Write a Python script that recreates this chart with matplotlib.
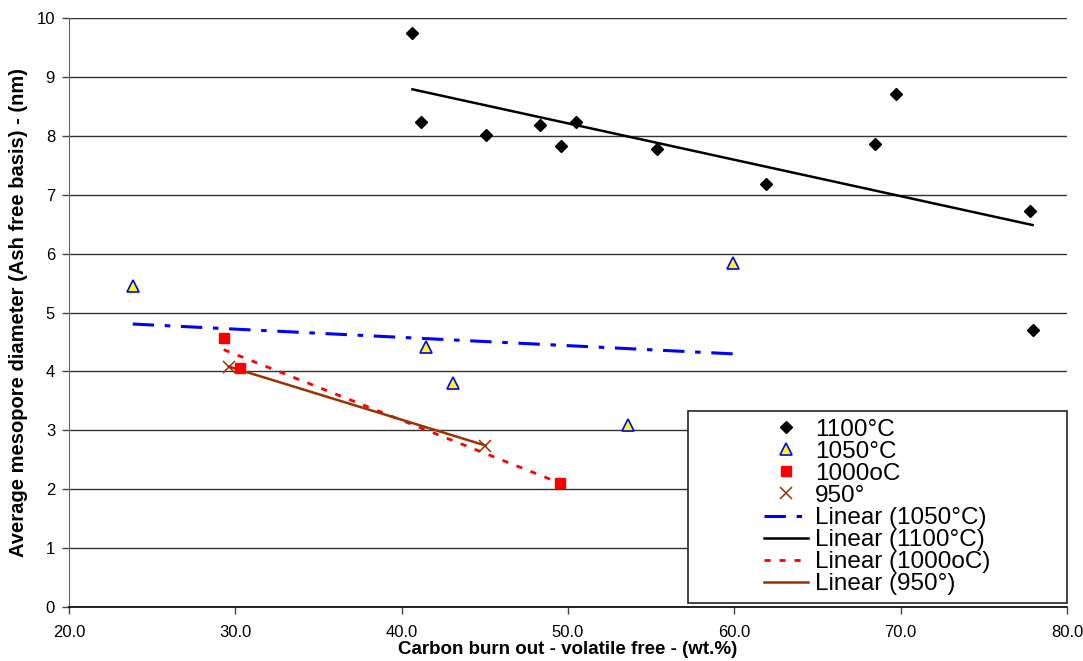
"""Mesopore diameter vs carbon burn-out, with linear trendlines per temperature."""

import numpy as np
import matplotlib

matplotlib.use("Agg")
import matplotlib.pyplot as plt
from matplotlib.patches import Rectangle

plt.rcParams["font.family"] = ["Liberation Sans", "DejaVu Sans"]

# 1100°C
x_1100 = [40.65, 41.15, 45.10, 48.31, 49.61, 50.47, 55.38, 61.91, 68.46, 69.70, 77.77, 77.93]
y_1100 = [9.75, 8.23, 8.01, 8.19, 7.83, 8.23, 7.78, 7.19, 7.87, 8.71, 6.73, 4.71]
# 1050°C
x_1050 = [23.83, 41.45, 43.08, 53.61, 59.90]
y_1050 = [5.45, 4.41, 3.80, 3.08, 5.84]
# 1000oC
x_1000 = [29.30, 30.26, 49.53]
y_1000 = [4.57, 4.05, 2.11]
# 950°
x_950 = [29.62, 45.04]
y_950 = [4.08, 2.74]

X_TICKS = [20.0, 30.0, 40.0, 50.0, 60.0, 70.0, 80.0]
Y_TICKS = list(range(0, 11))

BROWN = "#993300"


def trend(xs, ys):
    slope, icpt = np.polyfit(xs, ys, 1)
    xx = np.array([min(xs), max(xs)])
    return xx, slope * xx + icpt


fig = plt.figure(figsize=(10.83, 6.61), dpi=100)
ax = fig.add_axes([0.0637, 0.0821, 0.9215, 0.8902])

h1100, = ax.plot(x_1100, y_1100, linestyle="none", marker="D", ms=6.5, color="black", label="1100°C", zorder=4)
h1050, = ax.plot(x_1050, y_1050, linestyle="none", marker="^", ms=8, mfc="#ffff00", mec="#0000ff", mew=1.2,
                 label="1050°C", zorder=4)
h1000, = ax.plot(x_1000, y_1000, linestyle="none", marker="s", ms=7, color="#ff0000", label="1000oC", zorder=4)
h950, = ax.plot(x_950, y_950, linestyle="none", marker="x", ms=9, mew=1.1, color=BROWN, label="950°", zorder=4)

tx, ty = trend(x_1050, y_1050)
t1050, = ax.plot(tx, ty, color="#0000ff", lw=2.2, dashes=(7, 3.5, 1.8, 3.5), label="Linear (1050°C)", zorder=3)
tx, ty = trend(x_1100, y_1100)
t1100, = ax.plot(tx, ty, color="black", lw=1.8, label="Linear (1100°C)", zorder=3)
tx, ty = trend(x_1000, y_1000)
t1000, = ax.plot(tx, ty, color="#ff0000", lw=2.0, dashes=(2.2, 3.2), label="Linear (1000oC)", zorder=3)
tx, ty = trend(x_950, y_950)
t950, = ax.plot(tx, ty, color=BROWN, lw=1.8, label="Linear (950°)", zorder=3)

ax.set_xlim(20, 80)
ax.set_ylim(0, 10)
ax.set_xticks(X_TICKS)
ax.set_xticklabels([f"{v:.1f}" for v in X_TICKS])
ax.set_yticks(Y_TICKS)
ax.tick_params(axis="both", labelsize=12, length=5, width=1, direction="out", color="#444444")
ax.tick_params(axis="x", pad=8)
ax.tick_params(axis="y", pad=5)
ax.grid(axis="y", color="#333333", lw=1.0)
ax.set_axisbelow(True)
for side in ("top", "right"):
    ax.spines[side].set_visible(False)
ax.spines["left"].set_color("#666666")
ax.spines["bottom"].set_color("black")
ax.spines["bottom"].set_linewidth(1.2)

ax.set_xlabel("Carbon burn out - volatile free - (wt.%)", fontsize=13.5, fontweight="bold", labelpad=1)
ax.set_ylabel("Average mesopore diameter (Ash free basis) - (nm)", fontsize=14.5, fontweight="bold", labelpad=6)

box = (0.620, 0.006, 0.380, 0.327)
ax.add_patch(Rectangle(box[:2], box[2], box[3], transform=ax.transAxes, facecolor="white",
                       edgecolor="#222222", lw=1.2, zorder=5, clip_on=False))
leg = ax.legend(handles=[h1100, h1050, h1000, h950, t1050, t1100, t1000, t950],
                loc="center", bbox_to_anchor=box, frameon=False, fontsize=17.5,
                labelspacing=0.0, handlelength=1.8, handletextpad=0.3, borderpad=0.0)
leg.set_zorder(6)

fig.savefig("out.png", dpi=100)
